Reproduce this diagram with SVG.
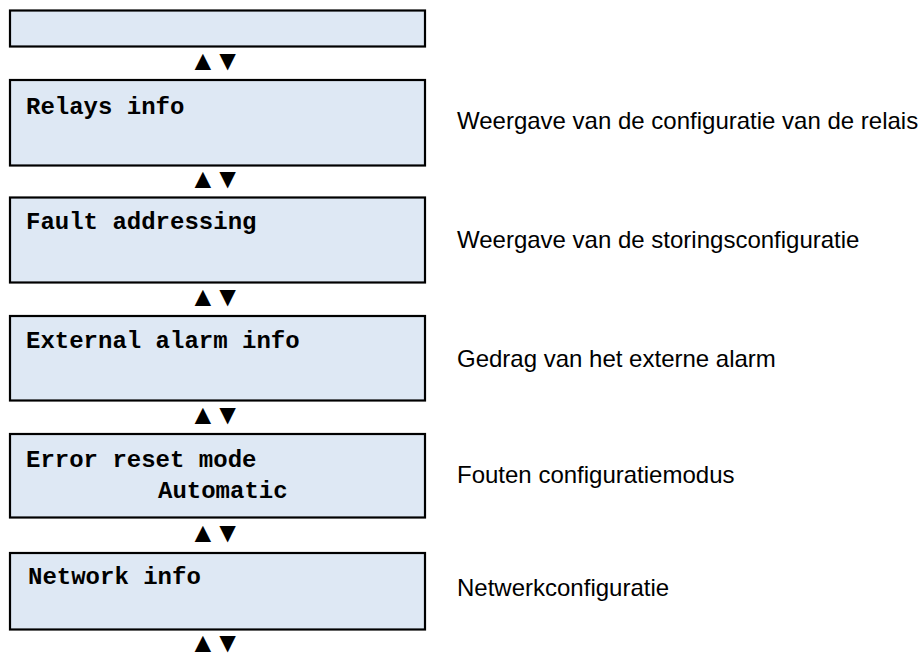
<svg xmlns="http://www.w3.org/2000/svg" width="922" height="655" viewBox="0 0 922 655">
  <style>
    .screen { fill: #dee8f4; stroke: #000; stroke-width: 2.2; }
    .lcd { font-family: "Liberation Mono", "Courier New", monospace; font-weight: bold; font-size: 24px; fill: #000; }
    .note { font-family: "Liberation Sans", Arial, sans-serif; font-size: 24px; fill: #000; }
    .nav { font-family: "Liberation Sans", Arial, sans-serif; font-size: 28px; letter-spacing: -3px; fill: #000; }
  </style>
  <rect width="922" height="655" fill="#fff"/>

  <!-- up/down navigation arrows between menu screens -->
  <g id="connectors">
    <text class="nav" x="189" y="70">▲▼</text>
    <text class="nav" x="189" y="188">▲▼</text>
    <text class="nav" x="189" y="306">▲▼</text>
    <text class="nav" x="189" y="424">▲▼</text>
    <text class="nav" x="189" y="542">▲▼</text>
    <text class="nav" x="189" y="652">▲▼</text>
  </g>

  <g id="screen-top">
    <rect class="screen" x="10" y="10.5" width="415" height="36"/>
  </g>

  <g id="screen-relays">
    <rect class="screen" x="10" y="80" width="415" height="85.5"/>
    <text class="lcd" x="26" y="114">Relays info</text>
    <text class="note" x="457" y="129">Weergave van de configuratie van de relais</text>
  </g>

  <g id="screen-fault">
    <rect class="screen" x="10" y="197.5" width="415" height="85"/>
    <text class="lcd" x="26" y="229">Fault addressing</text>
    <text class="note" x="457" y="248">Weergave van de storingsconfiguratie</text>
  </g>

  <g id="screen-external">
    <rect class="screen" x="10" y="316" width="415" height="84.5"/>
    <text class="lcd" x="26" y="348">External alarm info</text>
    <text class="note" x="457" y="367">Gedrag van het externe alarm</text>
  </g>

  <g id="screen-reset">
    <rect class="screen" x="10" y="434" width="415" height="83.5"/>
    <text class="lcd" x="26" y="467">Error reset mode</text>
    <text class="lcd" x="158" y="498">Automatic</text>
    <text class="note" x="457" y="483">Fouten configuratiemodus</text>
  </g>

  <g id="screen-network">
    <rect class="screen" x="10" y="553" width="415" height="76.5"/>
    <text class="lcd" x="28" y="584">Network info</text>
    <text class="note" x="457" y="596">Netwerkconfiguratie</text>
  </g>
</svg>
